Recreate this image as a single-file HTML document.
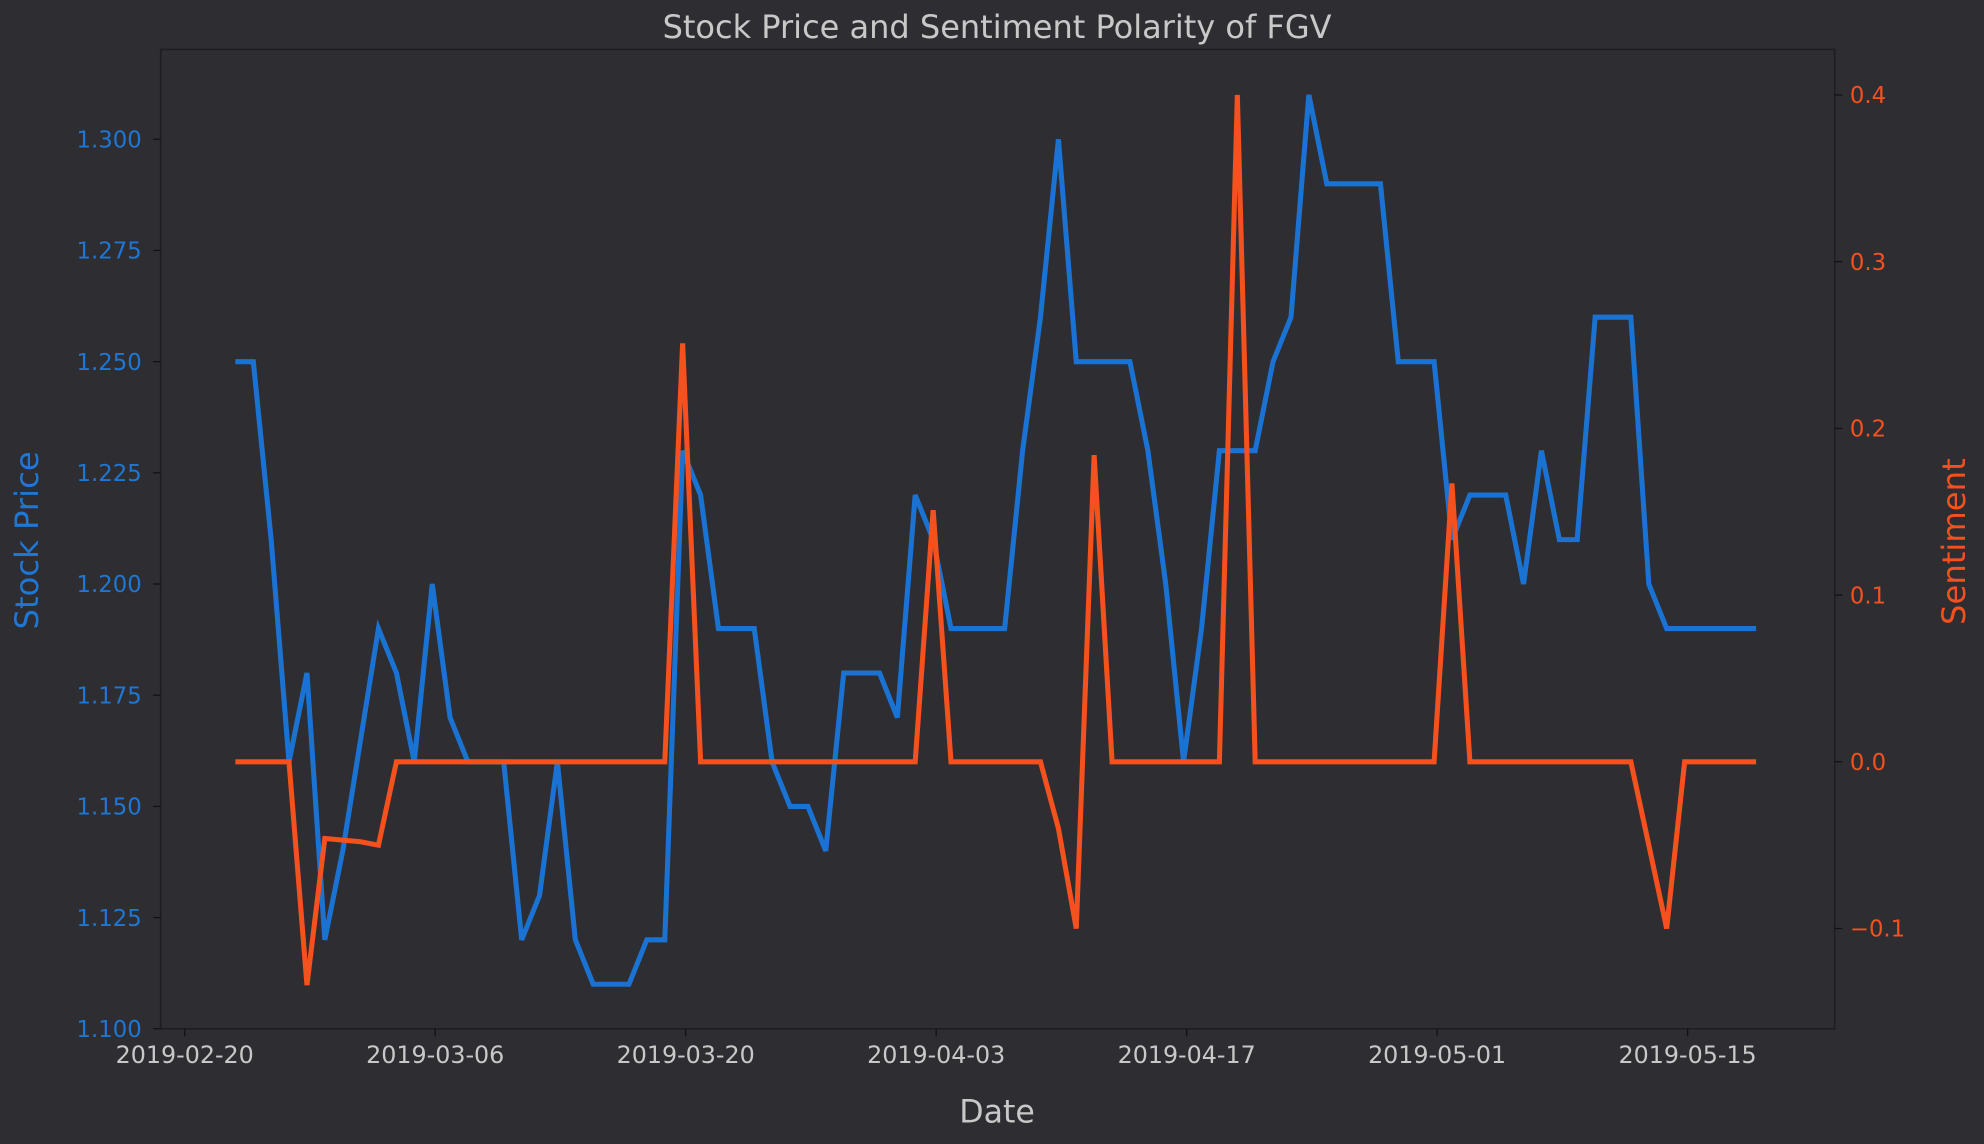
<!DOCTYPE html>
<html><head><meta charset="utf-8"><style>
html,body{margin:0;padding:0;background:#2e2d32;}
svg{display:block;font-family:"Liberation Sans","DejaVu Sans",sans-serif;}
</style></head><body>
<svg id="chart" width="1984" height="1144" viewBox="0 0 1568 904" xmlns="http://www.w3.org/2000/svg">
<rect width="1568" height="904" fill="#2e2d32"/>
<text x="788" y="30" text-anchor="middle" font-size="25.3" fill="#c8c8c8" font-family="DejaVu Sans, sans-serif">Stock Price and Sentiment Polarity of FGV</text>
<rect x="127" y="39" width="1323" height="774" fill="none" stroke="#1e1e21" stroke-width="1.2"/>
<g id="xticks"></g>
<g id="ylticks"></g>
<g id="yrticks"></g>
<text x="788" y="887" text-anchor="middle" font-size="25" fill="#c8c8c8" font-family="DejaVu Sans, sans-serif">Date</text>
<text transform="translate(30,427) rotate(-90)" text-anchor="middle" font-size="25.5" fill="#1f77d4" font-family="DejaVu Sans, sans-serif">Stock Price</text>
<text transform="translate(1553,428) rotate(-90)" text-anchor="middle" font-size="25.5" fill="#f4511e" font-family="DejaVu Sans, sans-serif">Sentiment</text>
<g id="series"></g>
</svg>
<script>
const xTickLabels = ["2019-02-20","2019-03-06","2019-03-20","2019-04-03","2019-04-17","2019-05-01","2019-05-15"];
const xTickDays = [0,14,28,42,56,70,84];
const priceTicks = [1.100,1.125,1.150,1.175,1.200,1.225,1.250,1.275,1.300];
const sentTicks = [-0.1,0.0,0.1,0.2,0.3,0.4];
const startDay = 2.83;
const price = [1.25,1.25,1.21,1.16,1.18,1.12,1.14,1.165,1.19,1.18,1.16,1.20,1.17,1.16,1.16,1.16,1.12,1.13,1.16,1.12,1.11,1.11,1.11,1.12,1.12,1.23,1.22,1.19,1.19,1.19,1.16,1.15,1.15,1.14,1.18,1.18,1.18,1.17,1.22,1.21,1.19,1.19,1.19,1.19,1.23,1.26,1.30,1.25,1.25,1.25,1.25,1.23,1.20,1.16,1.19,1.23,1.23,1.23,1.25,1.26,1.31,1.29,1.29,1.29,1.29,1.25,1.25,1.25,1.21,1.22,1.22,1.22,1.20,1.23,1.21,1.21,1.26,1.26,1.26,1.20,1.19,1.19,1.19,1.19,1.19,1.19];
const sentiment = [0,0,0,0,-0.134,-0.046,-0.047,-0.048,-0.05,0,0,0,0,0,0,0,0,0,0,0,0,0,0,0,0,0.251,0,0,0,0,0,0,0,0,0,0,0,0,0,0.151,0,0,0,0,0,0,-0.04,-0.1,0.184,0,0,0,0,0,0,0,0.4,0,0,0,0,0,0,0,0,0,0,0,0.167,0,0,0,0,0,0,0,0,0,0,-0.05,-0.1,0,0,0,0,0];
const NS="http://www.w3.org/2000/svg";
function xS(d){return 146+d*14.14;}
function yL(v){return 813-(v-1.1)/0.025*87.875;}
function yR(v){return 602-v/0.1*131.75;}
function mk(tag,attrs,parent){const e=document.createElementNS(NS,tag);for(const k in attrs)e.setAttribute(k,attrs[k]);parent.appendChild(e);return e;}
const xg=document.getElementById('xticks'),lg=document.getElementById('ylticks'),rg=document.getElementById('yrticks'),sg=document.getElementById('series');
xTickDays.forEach((d,i)=>{
  const x=xS(d);
  const t=mk('line',{x1:x,x2:x,y1:813,y2:819,stroke:'#111',"stroke-width":1},xg);
  
  
  const l=mk('text',{x:x,y:840,"text-anchor":"middle","font-size":18.8,fill:'#c8c8c8',"font-family":"DejaVu Sans, sans-serif"},xg);
  l.textContent=xTickLabels[i];
  
  
});
priceTicks.forEach(v=>{
  const y=yL(v);
  const t=mk('line',{x1:121,x2:127,y1:y,y2:y,stroke:'#111',"stroke-width":1},lg);
  
  
  const l=mk('text',{x:112,y:y+6.5,"text-anchor":"end","font-size":18,fill:'#1f77d4',"font-family":"DejaVu Sans, sans-serif"},lg);
  l.textContent=v.toFixed(3);
  
  
});
sentTicks.forEach(v=>{
  const y=yR(v);
  const t=mk('line',{x1:1450,x2:1456,y1:y,y2:y,stroke:'#111',"stroke-width":1},rg);
  
  
  const l=mk('text',{x:1462,y:y+6.5,"text-anchor":"start","font-size":18,fill:'#f4511e',"font-family":"DejaVu Sans, sans-serif"},rg);
  l.textContent=(v<0?'\u2212':'')+Math.abs(v).toFixed(1);
  
  
});
const pp=mk('polyline',{points:price.map((v,i)=>xS(startDay+i).toFixed(1)+','+yL(v).toFixed(1)).join(' '),fill:'none',stroke:'#1a73d2',"stroke-width":4,"stroke-linejoin":"miter"},sg);


const sp=mk('polyline',{points:sentiment.map((v,i)=>xS(startDay+i).toFixed(1)+','+yR(v).toFixed(1)).join(' '),fill:'none',stroke:'#f4511e',"stroke-width":4,"stroke-linejoin":"miter"},sg);


</script>
</body></html>
